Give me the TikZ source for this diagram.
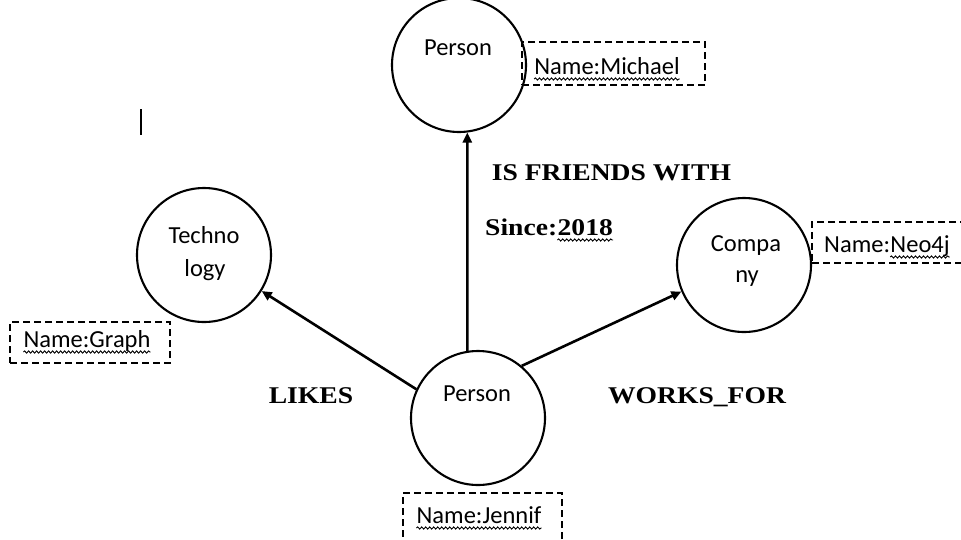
\documentclass[tikz,border=0pt]{standalone}
\usepackage{fontspec}
\setmainfont{Liberation Serif}
\newfontfamily\calfont{Carlito}
\newfontfamily\relfont[FakeStretch=1.15]{Liberation Serif}
\usetikzlibrary{arrows.meta,decorations.pathmorphing}
\begin{document}
\begin{tikzpicture}[x=1pt,y=-1pt,
  ent/.style={circle,draw,line width=2.1pt,minimum size=134pt,inner sep=0pt},
  txt/.style={font=\calfont\fontsize{24.5}{29}\selectfont,inner sep=0pt,anchor=base},
  rel/.style={font=\relfont\bfseries\fontsize{24}{30}\selectfont,inner sep=0pt,anchor=base},
  prop/.style={draw,dash pattern=on 7pt off 4pt,line width=2.1pt,inner sep=0pt},
  arr/.style={line width=2.6pt,-{Triangle[length=10pt,width=9pt]}},
  wavy/.style={decorate,decoration={snake,amplitude=1.1pt,segment length=4pt},line width=0.9pt}
]
\useasboundingbox (0,0) rectangle (961,539);

% entity circles
\node[ent] (tp) at (459,65) {};
\node[ent] (tech) at (204,255) {};
\node[ent] (comp) at (744,265) {};
\node[ent] (bp) at (478,418) {};

% texts inside circles
\node[txt] (tpt) at (458,55) {Person};
\node[txt] (tech1) at (204,243) {Techno};
\node[txt] (tech2) at (205,276) {logy};
\node[txt] (comp1) at (746,251) {Compa};
\node[txt] (comp2) at (747,282) {ny};
\node[txt] (bpt) at (477,401) {Person};

% property boxes
\node[prop,minimum width=183pt,minimum height=43pt] (mbox) at (613.5,63.5) {};
\node[prop,minimum width=160pt,minimum height=41pt] (gbox) at (90,342.5) {};
\node[prop,minimum width=156pt,minimum height=41pt] (nbox) at (890,242.5) {};
\node[prop,minimum width=159pt,minimum height=52pt] (jbox) at (482.5,519) {};

\node[txt] (mich) at (607,74) {Name:Michael};
\node[txt] (graph) at (87,347) {Name:Graph};
\node[txt,anchor=base west] (neoa) at (824,252) {Name:};
\node[txt,anchor=base west] (neob) at (neoa.base east) {Neo4j};
\node[txt] (jen) at (479,523) {Name:Jennif};

% relationship labels
\node[rel] (fr) at (611.5,180) {IS FRIENDS WITH};
\node[rel,anchor=base west] (sincea) at (485,235) {Since:};
\node[rel,anchor=base west] (sinceb) at (sincea.base east) {2018};
\node[rel] (likes) at (311,403) {LIKES};
\node[rel] (works) at (697,403) {WORKS\_FOR};

% wavy underlines
\draw[wavy] ([yshift=-5pt]mich.base west) -- ([yshift=-5pt]mich.base east);
\draw[wavy] ([yshift=-5pt]graph.base west) -- ([yshift=-5pt]graph.base east);
\draw[wavy] ([yshift=-5pt]neob.base west) -- ([yshift=-5pt]neob.base east);
\draw[wavy] ([yshift=-5pt]jen.base west) -- ([yshift=-5pt]jen.base east);
\draw[wavy] ([yshift=-5pt]sinceb.base west) -- ([yshift=-5pt]sinceb.base east);

% connectors
\draw[arr] (bp.99.5) -- (tp.-83);
\draw[arr] (bp.155) -- (tech.-32);
\draw[arr] (bp.50) -- (comp.203);

% text cursor mark
\draw[line width=2.5pt] (141,109) -- (141,135);
\end{tikzpicture}
\end{document}
